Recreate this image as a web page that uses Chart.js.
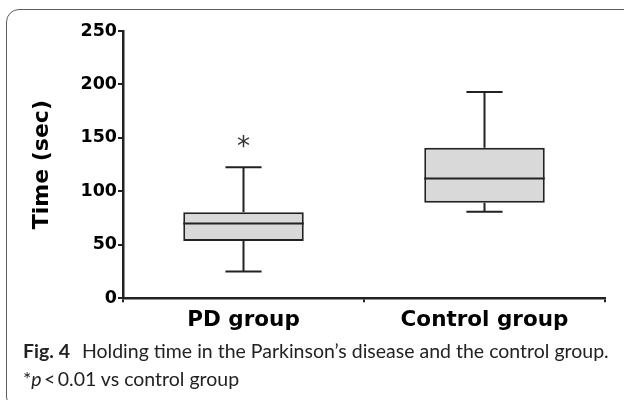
<!DOCTYPE html>
<html>
<head>
<meta charset="utf-8">
<script src="https://cdn.jsdelivr.net/npm/chart.js@4.4.0/dist/chart.umd.min.js"></script>
<style>
  html, body { margin: 0; padding: 0; background: #fff; width: 624px; height: 400px; overflow: hidden; }
  #frame { position: absolute; left: 6px; top: 9px; width: 700px; height: 401px; box-sizing: border-box;
           border: 1.5px solid #5e5e5e; border-radius: 13px; }
  #c { position: absolute; left: 0; top: 0; }
  #caption { position: absolute; left: 23px; top: 337px; font-family: Lato, "Open Sans", sans-serif;
             font-size: 19.5px; line-height: 28px; color: #222; white-space: nowrap; }
  #caption b { font-weight: 700; margin-right: 7px; }
</style>
</head>
<body>
<div id="frame"></div>
<canvas id="c" width="624" height="340"></canvas>
<div id="caption"><b>Fig. 4</b> Holding time in the Parkinson’s disease and the control group.<br>*<i>p</i>&thinsp;&lt;&thinsp;0.01 vs control group</div>
<script>
// ---- data ----
const categories  = ['PD group', 'Control group'];
const whiskerLow  = [25, 81];
const q1          = [53.5, 89.3];
const median      = [70, 112];
const q3          = [80.5, 140.7];
const whiskerHigh = [122.5, 193];
const markerText  = ['*', ''];
const markerValue = [146, null];
const yTicks      = [0, 50, 100, 150, 200, 250];

const INK = '#222222';

const boxPlugin = {
  id: 'boxExtras',
  afterDatasetsDraw(chart) {
    const ctx = chart.ctx;
    const xs = chart.scales.x, ys = chart.scales.y;
    const meta = chart.getDatasetMeta(0);
    ctx.save();
    ctx.strokeStyle = INK;
    ctx.lineWidth = 2;
    ctx.lineCap = 'butt';
    categories.forEach((c, i) => {
      const bar = meta.data[i];
      const x = xs.getPixelForValue(i);
      const half = bar.width / 2;
      const capHalf = (xs.width / categories.length) * 0.075;
      const yQ1 = ys.getPixelForValue(q1[i]);
      const yQ3 = ys.getPixelForValue(q3[i]);
      const yMed = ys.getPixelForValue(median[i]);
      const yLo = ys.getPixelForValue(whiskerLow[i]);
      const yHi = ys.getPixelForValue(whiskerHigh[i]);
      ctx.beginPath();
      ctx.moveTo(x - half, yMed); ctx.lineTo(x + half, yMed);
      ctx.moveTo(x, yQ3); ctx.lineTo(x, yHi);
      ctx.moveTo(x, yQ1); ctx.lineTo(x, yLo);
      ctx.moveTo(x - capHalf, yHi); ctx.lineTo(x + capHalf, yHi);
      ctx.moveTo(x - capHalf, yLo); ctx.lineTo(x + capHalf, yLo);
      ctx.stroke();
      if (markerText[i]) {
        ctx.fillStyle = '#333';
        ctx.font = '26px "DejaVu Sans"';
        ctx.textAlign = 'center';
        ctx.textBaseline = 'middle';
        ctx.fillText(markerText[i], x, ys.getPixelForValue(markerValue[i]) + 6);
      }
    });
    ctx.restore();
  }
};

new Chart(document.getElementById('c'), {
  type: 'bar',
  data: {
    labels: categories,
    datasets: [{
      data: categories.map((c, i) => [q1[i], q3[i]]),
      backgroundColor: '#d9d9d9',
      borderColor: INK,
      borderWidth: 2,
      borderSkipped: false,
      barPercentage: 0.5,
      categoryPercentage: 1.0
    }]
  },
  options: {
    responsive: false,
    animation: false,
    events: [],
    layout: { padding: { left: 0, right: 19, top: 31, bottom: 0 } },
    plugins: { legend: { display: false }, tooltip: { enabled: false } },
    scales: {
      x: {
        grid: { display: true, drawOnChartArea: false, drawTicks: true, tickLength: 4, color: INK, lineWidth: 2, offset: true },
        border: { display: true, color: INK, width: 2.5 },
        ticks: { color: '#000', padding: 5, font: { family: 'DejaVu Sans', weight: 'bold', size: 21.5 } },
        afterFit(s) { s.height = 340 - 298.3; }
      },
      y: {
        min: 0, max: 250,
        afterBuildTicks(s) { s.ticks = yTicks.map(v => ({ value: v })); },
        grid: { display: true, drawOnChartArea: false, drawTicks: true, tickLength: 5, color: INK, lineWidth: 2 },
        border: { display: true, color: INK, width: 2.5 },
        ticks: { color: '#000', padding: 1, font: { family: 'DejaVu Sans', weight: 'bold', size: 17.5 } },
        title: { display: true, text: 'Time (sec)', color: '#000', padding: { top: 29, bottom: 0 },
                 font: { family: 'DejaVu Sans', weight: 'bold', size: 22 } },
        afterFit(s) { s.width = 123; }
      }
    }
  },
  plugins: [boxPlugin]
});
</script>
</body>
</html>
